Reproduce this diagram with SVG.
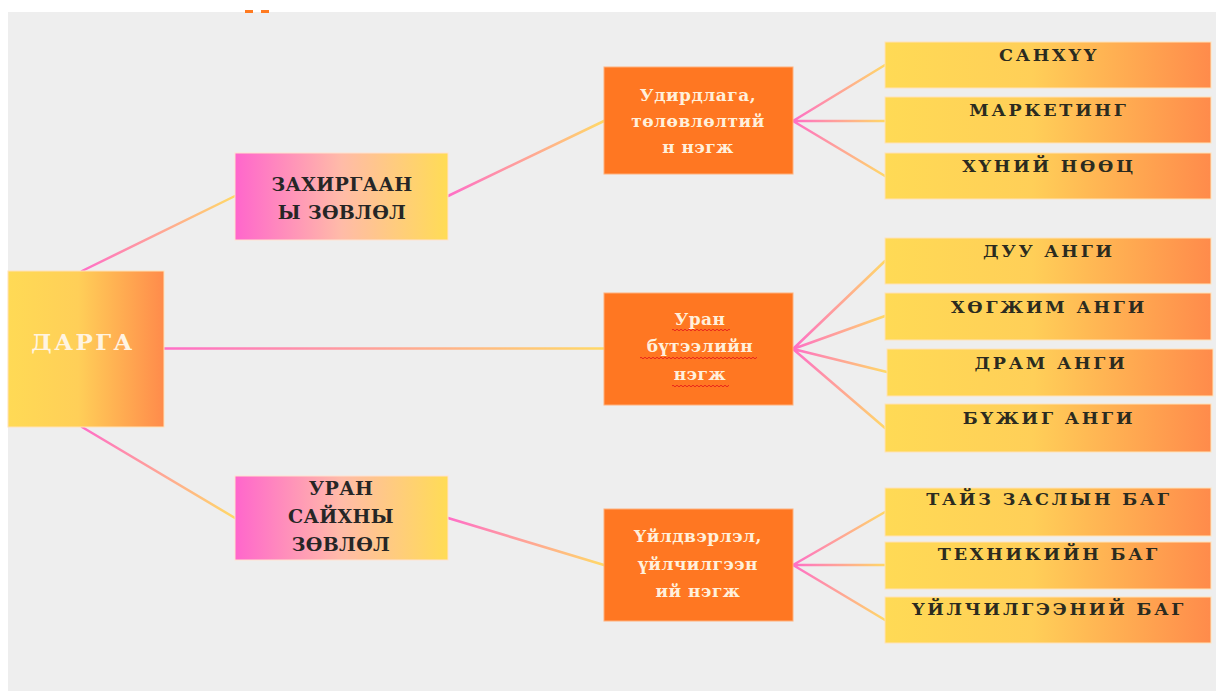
<svg xmlns="http://www.w3.org/2000/svg" width="1216" height="691" viewBox="0 0 1216 691">
<defs>
<linearGradient id="gYO" x1="0" y1="0" x2="1" y2="0"><stop offset="0" stop-color="#FFDA55"/><stop offset="0.45" stop-color="#FFCF58"/><stop offset="1" stop-color="#FF8B4B"/></linearGradient>
<linearGradient id="gPY" x1="0" y1="0" x2="1" y2="0"><stop offset="0" stop-color="#FF66CC"/><stop offset="0.5" stop-color="#FFBBA8"/><stop offset="1" stop-color="#FFDC55"/></linearGradient>
<linearGradient id="cA" gradientUnits="userSpaceOnUse" x1="82" y1="0" x2="235" y2="0"><stop offset="0" stop-color="#FF6EC7"/><stop offset="1" stop-color="#FFD966"/></linearGradient>
<linearGradient id="cB" gradientUnits="userSpaceOnUse" x1="448" y1="0" x2="604" y2="0"><stop offset="0" stop-color="#FF6EC7"/><stop offset="1" stop-color="#FFD966"/></linearGradient>
<linearGradient id="cC" gradientUnits="userSpaceOnUse" x1="164" y1="0" x2="604" y2="0"><stop offset="0" stop-color="#FF6EC7"/><stop offset="1" stop-color="#FFD966"/></linearGradient>
<linearGradient id="cD" gradientUnits="userSpaceOnUse" x1="793" y1="0" x2="886" y2="0"><stop offset="0" stop-color="#FF6EC7"/><stop offset="1" stop-color="#FFD966"/></linearGradient>
<pattern id="wave" width="4" height="4" patternUnits="userSpaceOnUse"><path d="M0,2 Q1,0.5 2,2 T4,2" fill="none" stroke="#E8231A" stroke-width="1"/></pattern>
</defs>
<style>
.yo{fill:url(#gYO);stroke:#FFE2B8;stroke-width:1}
.py{fill:url(#gPY);stroke:#FFE2D0;stroke-width:1}
.or{fill:#FF7722;stroke:#FFB07A;stroke-width:1}
.t{font-family:"DejaVu Serif","Liberation Serif",serif;text-anchor:middle}
.r{font-size:17.5px;font-weight:bold;fill:#2B2B20;letter-spacing:2.8px}
.m{font-size:19px;font-weight:bold;fill:#262626;letter-spacing:0.3px}
.o{font-size:17px;fill:#FFF0DC;font-weight:bold;letter-spacing:0.5px}
.d{font-size:23px;font-weight:bold;fill:#FFF4E2;letter-spacing:2.5px}
.c{fill:none;stroke-width:2.5;stroke-linecap:round}
</style>
<rect x="8" y="12" width="1208" height="679" fill="#EEEEEE"/>
<rect x="245" y="10" width="8" height="3" fill="#FF7A20"/>
<rect x="261" y="10" width="8" height="3" fill="#FF7A20"/>
<g id="connectors">
<path class="c" stroke="url(#cA)" d="M82,271 L235,196 M82,427 L235,518"/>
<path class="c" stroke="url(#cB)" d="M448,196 L604,121 M448,518 L604,565"/>
<path class="c" stroke="url(#cC)" d="M164,348.5 L604,348.5"/>
<path class="c" stroke="url(#cD)" d="M793,121 L885,65 M793,121 L885,121 M793,121 L885,176 M793,349 L885,261 M793,349 L885,316 M793,349 L887,372 M793,349 L885,428 M793,565 L885,512 M793,565 L885,565 M793,565 L885,620"/>
</g>
<g id="darga"><rect class="yo" x="8" y="271" width="156" height="156"/><text class="t d" x="83" y="350">ДАРГА</text></g>
<g id="zahirgaan"><rect class="py" x="235" y="153" width="213" height="87"/><text class="t m" x="342" y="191">ЗАХИРГААН</text><text class="t m" x="342" y="219">Ы ЗӨВЛӨЛ</text></g>
<g id="uran-saihny"><rect class="py" x="235" y="476" width="213" height="84"/><text class="t m" x="341" y="495">УРАН</text><text class="t m" x="341" y="523">САЙХНЫ</text><text class="t m" x="341" y="551">ЗӨВЛӨЛ</text></g>
<g id="udirdlaga"><rect class="or" x="604" y="67" width="189" height="107"/><text class="t o" x="698" y="101">Удирдлага,</text><text class="t o" x="698" y="127">төлөвлөлтий</text><text class="t o" x="698" y="153">н нэгж</text></g>
<g id="uran-buteel"><rect class="or" x="604" y="293" width="189" height="112"/><text class="t o" x="700" y="325">Уран</text><text class="t o" x="700" y="352">бүтээлийн</text><text class="t o" x="700" y="380">нэгж</text>
<rect x="672" y="328" width="58" height="4" fill="url(#wave)"/><rect x="640" y="355" width="117" height="4" fill="url(#wave)"/><rect x="672" y="383" width="57" height="4" fill="url(#wave)"/></g>
<g id="uildverlel"><rect class="or" x="604" y="509" width="189" height="112"/><text class="t o" x="698" y="542">Үйлдвэрлэл,</text><text class="t o" x="698" y="570">үйлчилгээн</text><text class="t o" x="698" y="597">ий нэгж</text></g>
<g id="sanhuu"><rect class="yo" x="885" y="42" width="326" height="46"/><text class="t r" x="1049" y="61">САНХҮҮ</text></g>
<g id="marketing"><rect class="yo" x="885" y="97" width="326" height="46"/><text class="t r" x="1049" y="116">МАРКЕТИНГ</text></g>
<g id="hunii-nooc"><rect class="yo" x="885" y="153" width="326" height="46"/><text class="t r" x="1049" y="172">ХҮНИЙ НӨӨЦ</text></g>
<g id="duu"><rect class="yo" x="885" y="238" width="326" height="46"/><text class="t r" x="1049" y="257">ДУУ АНГИ</text></g>
<g id="hogjim"><rect class="yo" x="885" y="293" width="326" height="47"/><text class="t r" x="1049" y="313">ХӨГЖИМ АНГИ</text></g>
<g id="dram"><rect class="yo" x="887" y="349" width="326" height="47"/><text class="t r" x="1051" y="369">ДРАМ АНГИ</text></g>
<g id="bujig"><rect class="yo" x="885" y="404" width="326" height="48"/><text class="t r" x="1049" y="424">БҮЖИГ АНГИ</text></g>
<g id="taiz"><rect class="yo" x="885" y="488" width="326" height="48"/><text class="t r" x="1049" y="505">ТАЙЗ ЗАСЛЫН БАГ</text></g>
<g id="tehnik"><rect class="yo" x="885" y="542" width="326" height="47"/><text class="t r" x="1049" y="560">ТЕХНИКИЙН БАГ</text></g>
<g id="uilchilgee"><rect class="yo" x="885" y="597" width="326" height="46"/><text class="t r" x="1049" y="615">ҮЙЛЧИЛГЭЭНИЙ БАГ</text></g>
</svg>
